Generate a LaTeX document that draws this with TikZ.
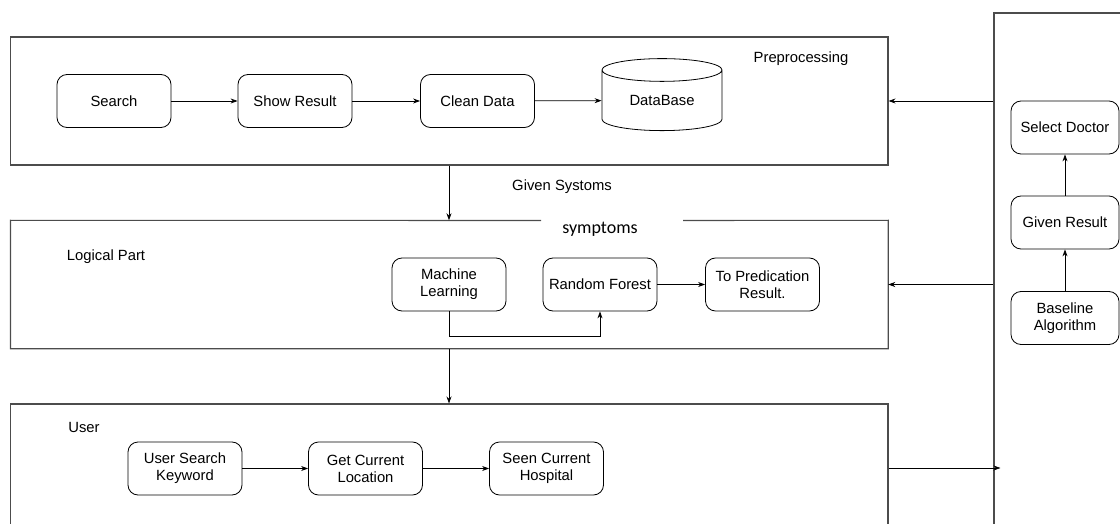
\documentclass[tikz,border=0pt]{standalone}
\usepackage{fontspec}
\setmainfont{Liberation Sans}
\newfontfamily\calibrifont{Carlito}
\usetikzlibrary{shapes.geometric,arrows.meta}

\begin{document}
\begin{tikzpicture}
[x=1pt,y=-1pt,>={Stealth[length=7pt,width=5pt]},
font=\fontsize{14.8}{17}\selectfont,
box/.style={draw,rounded corners=10pt,minimum width=114pt,minimum height=53pt,inner sep=0pt,align=center,line width=0.8pt},
sidebox/.style={box,minimum width=108pt},
panel/.style={draw=black!70,line width=1.1pt,inner sep=0pt},
panelline/.style={draw=black!70,line width=1.1pt},
link/.style={->,line width=0.8pt},]

\useasboundingbox (0,0) rectangle (1120,524);

%Panels
\node (pre) at (449.35,101)[panel,minimum width=877.3pt,minimum height=128pt] {};
\node (logic) at (449.35,284.5)[inner sep=0pt,minimum width=877.3pt,minimum height=128pt] {};
\node (user) at (449.35,468)[panel,minimum width=877.3pt,minimum height=128pt] {};
\node (side) at (1069,278)[panel,minimum width=150pt,minimum height=530pt] {};

%Gap in the top of the logical panel
\coordinate (gapL) at (541,220.5);
\coordinate (gapR) at (683,220.5);
\draw[panelline] (gapL) -- (logic.north west) -- (logic.south west) -- (logic.south east) -- (logic.north east) -- (gapR);

%Panel labels
\node (prelabel) at (801,59) {Preprocessing};
\node (logiclabel) at (106,257) {Logical Part};
\node (userlabel) at (84,427) {User};
\node (given label) at (562,187) {Given Systoms};
\node (symptoms) at (600,229) {\calibrifont\fontsize{18}{20}\selectfont symptoms};

%Preprocessing
\node (search) at (114,101)[box] {Search};
\node (show) at (295,101)[box] {Show Result};
\node (clean) at (477.5,101)[box] {Clean Data};
\node (db) at (662,100.5)[cylinder,shape border rotate=90,draw,line width=0.8pt,aspect=0.35,minimum width=120pt,minimum height=72pt,inner sep=0pt] {DataBase};

%Logical part
\node (ml) at (449,284.5)[box] {Machine\\Learning};
\node (rf) at (600,284.5)[box] {Random Forest};
\node (tpr) at (762.5,284.5)[box] {To Predication\\Result.};

%User
\node (usk) at (185,468.5)[box] {User Search\\Keyword};
\node (gcl) at (365.5,468.5)[box] {Get Current\\Location};
\node (sch) at (546.5,468.5)[box] {Seen Current\\Hospital};

%Doctor side
\node (select) at (1065,127.5)[sidebox] {Select Doctor};
\node (result) at (1065,222.5)[sidebox] {Given Result};
\node (base) at (1065,318)[sidebox] {Baseline\\Algorithm};

%Connectors
\draw[link] (search) -- (show);
\draw[link] (show) -- (clean);
\draw[link] (clean) -- (db);
\draw[link] (pre.south -| ml) -- (logic.north -| ml);
\draw[link] (logic.south -| ml) -- (user.north -| ml);
\draw[link] (rf) -- (tpr);
\draw[link] (ml.south) -- ++(0,25) -| (rf.south);
\draw[link] (usk) -- (gcl);
\draw[link] (gcl) -- (sch);
\draw[link] (side.west |- pre.east) -- (pre.east);
\draw[link] (side.west |- logic.east) -- (logic.east);
\draw[link,shorten >=-7pt] (user.east) -- (user.east -| side.west);
\draw[link] (base) -- (result);
\draw[link] (result) -- (select);

\end{tikzpicture}
\end{document}
